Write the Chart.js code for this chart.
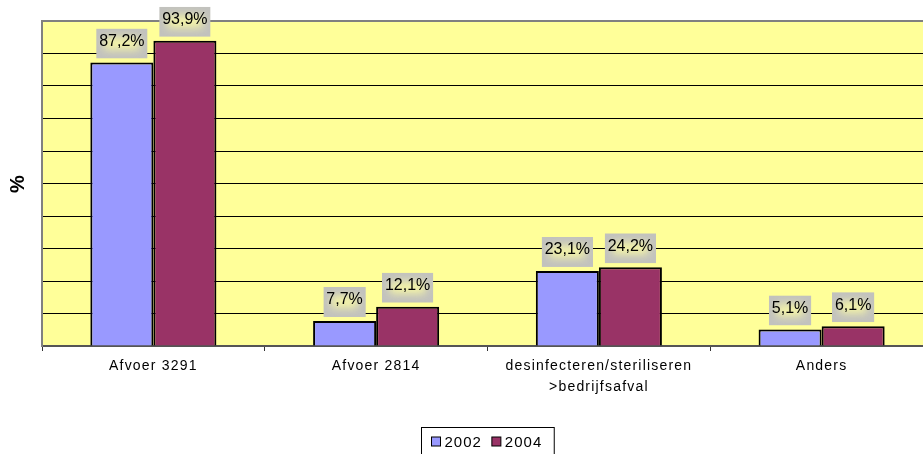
<!DOCTYPE html>
<html>
<head>
<meta charset="utf-8">
<script src="https://cdn.jsdelivr.net/npm/chart.js@4"></script>
<style>
  html, body { margin: 0; padding: 0; background: #fff; }
  #wrap { width: 923px; height: 454px; overflow: hidden; position: relative; }
  #inner { width: 933px; height: 454px; position: absolute; left: 0; top: 0; }
</style>
</head>
<body>
<div id="wrap"><div id="inner"><canvas id="chart"></canvas></div></div>
<script>
// Data
const categories = ['Afvoer 3291', 'Afvoer 2814', ['desinfecteren/steriliseren', '>bedrijfsafval'], 'Anders'];
const seriesNames = ['2002', '2004'];
const values2002 = [87.2, 7.7, 23.1, 5.1];
const values2004 = [93.9, 12.1, 24.2, 6.1];
const yMin = 0, yMax = 100, yStep = 10;

const FONT = 'Arial, "Liberation Sans", sans-serif';

// yellow plot background + letter spacing for axis text
const background = {
    id: 'background',
    beforeDraw(chart) {
        const { ctx, chartArea: a } = chart;
        ctx.fillStyle = '#FFFF99';
        ctx.fillRect(a.left, a.top, a.right - a.left, a.bottom - a.top);
        ctx.letterSpacing = '1.2px';
    },
    beforeDatasetsDraw(chart) {
        chart.ctx.letterSpacing = '0px';
    }
};

// value labels in grey boxes above bars
const valueLabels = {
    id: 'valueLabels',
    afterDatasetsDraw(chart) {
        const ctx = chart.ctx;
        chart.data.datasets.forEach((ds, i) => {
            chart.getDatasetMeta(i).data.forEach((bar, j) => {
                const txt = ds.data[j].toFixed(1).replace('.', ',') + '%';
                ctx.save();
                ctx.letterSpacing = '0px';
                ctx.font = '16px ' + FONT;
                const w = ctx.measureText(txt).width + 6, h = 30;
                const x0 = bar.x - w / 2, y0 = bar.y - 4 - h;
                ctx.beginPath();
                ctx.rect(x0, y0, w, h);
                ctx.clip();
                ctx.fillStyle = '#C2C2BE';
                ctx.fillRect(x0, y0, w, h);
                ctx.filter = 'blur(4px)';
                ctx.fillStyle = '#F6F6A6';
                ctx.fillRect(x0 + 8, y0 + 9, w - 16, h - 18);
                ctx.filter = 'none';
                ctx.fillStyle = '#000';
                ctx.textAlign = 'center';
                ctx.textBaseline = 'middle';
                ctx.fillText(txt, bar.x, y0 + h / 2 - 2);
                ctx.restore();
            });
        });
    }
};

// boxed legend below the axis
const boxLegend = {
    id: 'boxLegend',
    afterDraw(chart) {
        const { ctx, chartArea: a } = chart;
        ctx.save();
        ctx.font = '15px ' + FONT;
        ctx.letterSpacing = '1px';
        const items = chart.data.datasets.map(ds => ({ label: ds.label, color: ds.backgroundColor, w: ctx.measureText(ds.label).width }));
        const sw = 9, gap = 4, itemGap = 10, padL = 10, padR = 12;
        let total = padL + padR;
        items.forEach((it, k) => { total += sw + gap + it.w + (k ? itemGap : 0); });
        const cx = (a.left + a.right) / 2;
        const bx = Math.round(cx - total / 2) + 0.5, by = 427.5;
        ctx.fillStyle = '#fff';
        ctx.fillRect(bx, by, total, 30);
        ctx.strokeStyle = '#000';
        ctx.lineWidth = 1;
        ctx.strokeRect(bx, by, total, 30);
        let x = bx + padL;
        items.forEach((it, k) => {
            if (k) x += itemGap;
            ctx.fillStyle = it.color;
            ctx.fillRect(x, 437, sw, sw);
            ctx.strokeRect(x, 437, sw, sw);
            x += sw + gap;
            ctx.fillStyle = '#000';
            ctx.textBaseline = 'alphabetic';
            ctx.fillText(it.label, x, 447);
            x += it.w;
        });
        ctx.restore();
    }
};

const ctx = document.getElementById('chart').getContext('2d');
new Chart(ctx, {
    type: 'bar',
    data: {
        labels: categories,
        datasets: [{
            label: seriesNames[0],
            data: values2002,
            backgroundColor: '#9999FF',
            borderColor: '#000',
            borderWidth: 2
        }, {
            label: seriesNames[1],
            data: values2004,
            backgroundColor: '#993366',
            borderColor: '#000',
            borderWidth: 2
        }]
    },
    options: {
        responsive: true,
        maintainAspectRatio: false,
        animation: false,
        datasets: { bar: { categoryPercentage: 0.566, barPercentage: 1 } },
        layout: { padding: { top: 21, left: 0, right: 0, bottom: 0 } },
        plugins: {
            legend: { display: false },
            tooltip: { enabled: false }
        },
        scales: {
            x: {
                grid: { display: true, drawOnChartArea: false, drawTicks: true, tickLength: 5, color: '#333', offset: true },
                border: { display: true, color: '#555', width: 2 },
                ticks: {
                    color: '#000',
                    padding: 5,
                    maxRotation: 0,
                    autoSkip: false,
                    font: { family: FONT, size: 14, lineHeight: 1.5 }
                },
                afterFit(scale) { scale.height = 108; }
            },
            y: {
                min: yMin,
                max: yMax,
                ticks: { display: false, stepSize: yStep },
                grid: {
                    drawTicks: false,
                    color: c => (c.tick && c.tick.value === yMax) ? '#808080' : '#000',
                    lineWidth: c => (c.tick && c.tick.value === yMax) ? 2 : 1
                },
                border: { display: true, color: '#808080', width: 2 },
                title: {
                    display: true,
                    text: '%',
                    color: '#000',
                    font: { family: FONT, size: 20, weight: 'bold', lineHeight: 1.2 },
                    padding: { top: 6, bottom: 0 }
                },
                afterFit(scale) { scale.width = 42; }
            }
        }
    },
    plugins: [background, valueLabels, boxLegend]
});
</script>
</body>
</html>
